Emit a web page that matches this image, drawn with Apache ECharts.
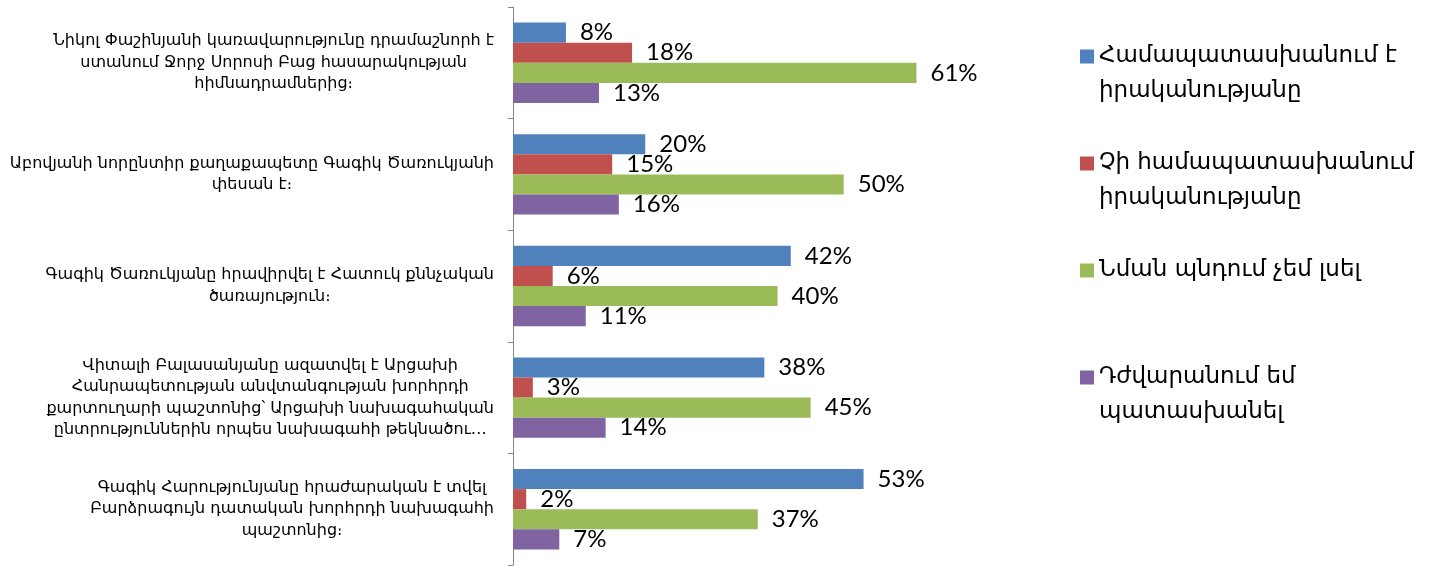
<!DOCTYPE html>
<html>
<head>
<meta charset="utf-8">
<script src="https://cdn.jsdelivr.net/npm/echarts@6/dist/echarts.min.js"></script>
<style>
  html, body { margin: 0; padding: 0; background: #fff; }
  #chart { width: 1433px; height: 566px; }
</style>
</head>
<body>
<div id="chart"></div>
<script>
// Survey statements (one per bar group)
const categories = [
  'Նիկոլ Փաշինյանի կառավարությունը դրամաշնորհ է\nստանում Ջորջ Սորոսի Բաց հասարակության\nհիմնադրամներից։',
  'Աբովյանի նորընտիր քաղաքապետը Գագիկ Ծառուկյանի\nփեսան է։',
  'Գագիկ Ծառուկյանը հրավիրվել է Հատուկ քննչական\nծառայություն։',
  'Վիտալի Բալասանյանը ազատվել է Արցախի\nՀանրապետության անվտանգության խորհրդի\nքարտուղարի պաշտոնից՝ Արցախի նախագահական\nընտրություններին որպես նախագահի թեկնածու…',
  'Գագիկ Հարությունյանը հրաժարական է տվել\nԲարձրագույն դատական խորհրդի նախագահի\nպաշտոնից։'
];

// Answer options
const seriesNames = [
  'Համապատասխանում է իրականությանը',
  'Չի համապատասխանում իրականությանը',
  'Նման պնդում չեմ լսել',
  'Դժվարանում եմ պատասխանել'
];
const legendLines = [
  ['Համապատասխանում է', 'իրականությանը'],
  ['Չի համապատասխանում', 'իրականությանը'],
  ['Նման պնդում չեմ լսել', ' '],
  ['Դժվարանում եմ', 'պատասխանել']
];

// Share of respondents, %
const matches    = [8, 20, 42, 38, 53];
const notMatches = [18, 15, 6, 3, 2];
const notHeard   = [61, 50, 40, 45, 37];
const hardToSay  = [13, 16, 11, 14, 7];

const seriesValues = [matches, notMatches, notHeard, hardToSay];
const colors = ['#4F81BD', '#C0504D', '#9BBB59', '#8064A2'];

const chart = echarts.init(document.getElementById('chart'));

chart.setOption({
  animation: false,
  color: colors,
  grid: { left: 513, top: 7, bottom: 1, right: 457, containLabel: false },
  legend: {
    orient: 'vertical',
    left: 1080,
    top: 4,
    padding: 0,
    itemGap: 2,
    itemWidth: 14,
    itemHeight: 14,
    icon: 'rect',
    selectedMode: false,
    data: seriesNames,
    // an empty leading line keeps the marker level with the first text line
    formatter: function (name) {
      const lines = legendLines[seriesNames.indexOf(name)];
      return ' \n' + lines.join('\n');
    },
    textStyle: {
      fontFamily: 'DejaVu Sans',
      fontSize: 23,
      lineHeight: 35,
      color: '#000'
    }
  },
  xAxis: {
    type: 'value',
    min: 0,
    max: 70,
    show: false,
    splitLine: { show: false }
  },
  yAxis: {
    type: 'category',
    inverse: true,
    data: categories,
    axisLine: { show: true, lineStyle: { color: '#868686', width: 1 } },
    axisTick: { show: true, length: 5, lineStyle: { color: '#868686' } },
    axisLabel: {
      margin: 19,
      formatter: function (value) {
        return value.split('\n').map(function (l) { return '{c|' + l + '}'; }).join('\n');
      },
      rich: {
        c: {
          align: 'center',
          fontFamily: 'DejaVu Sans',
          fontSize: 16,
          lineHeight: 21.5,
          color: '#000'
        }
      }
    }
  },
  series: seriesValues.map(function (vals, i) {
    return {
      name: seriesNames[i],
      type: 'bar',
      data: vals,
      barGap: '0%',
      barCategoryGap: '28%',
      label: {
        show: true,
        position: 'right',
        distance: 14,
        formatter: '{c}%',
        fontFamily: 'Lato',
        fontSize: 24,
        color: '#000'
      }
    };
  })
});
</script>
</body>
</html>
